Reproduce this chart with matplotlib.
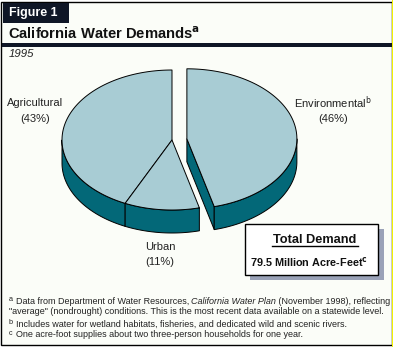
import numpy as np
import matplotlib
matplotlib.use("Agg")
import matplotlib.pyplot as plt
from matplotlib.patches import Rectangle, Polygon

# ---- data ----
categories = ["Agricultural", "Urban", "Environmental"]
shares = [43, 11, 46]
pct_labels = ["(43%)", "(11%)", "(46%)"]
explode = [0, 0, 1]
total_title = "Total Demand"
total_value = "79.5 Million Acre-Feet"
year_label = "1995"

W, H = 393, 347
fig = plt.figure(figsize=(W / 100, H / 100), dpi=100)
fig.patch.set_facecolor("white")
ax = fig.add_axes([0, 0, 1, 1])
ax.set_xlim(0, W)
ax.set_ylim(H, 0)
ax.axis("off")

FONT = "Liberation Sans"
BG = "#fbfdf8"
TOP = "#a8ccd4"
SIDE = "#036878"
DARK = "#0f1626"

# frame
ax.add_patch(Rectangle((1, 2), 390.5, 343, facecolor=BG, edgecolor="black", lw=1.0, zorder=0))
ax.add_patch(Rectangle((392, 0), 1.2, H, facecolor="#f2f200", edgecolor="none", zorder=0))
# tab
ax.add_patch(Rectangle((2.5, 2.5), 66, 20, facecolor=DARK, edgecolor="none", zorder=1))
ax.text(9, 13, "Figure 1", color="white", fontsize=8.9, fontweight="bold", family=FONT,
        va="center", ha="left", zorder=2)
ax.text(8, 34, r"California Water Demands$^{\mathbf{a}}$", color="#111111", fontsize=10.6,
        fontweight="bold", family=FONT, va="center", ha="left", zorder=2)
ax.add_patch(Rectangle((1.5, 43), 390, 3.6, facecolor=DARK, edgecolor="none", zorder=1))
ax.text(9, 53.5, year_label, fontsize=8.2, style="italic", family=FONT, va="center",
        ha="left", color="#222222")

# ---- 3D pie ----
cx, cy = 172.0, 140.0
rx, ry = 110.0, 70.0
depth = 23.0
expl_dist = 15.0
lw = 0.7

def pt(t, ox, oy, dz=0.0):
    return ox + rx * np.cos(t), oy - ry * np.sin(t) + dz

frac = np.array(shares, dtype=float) / np.sum(shares)
starts = []
a = np.pi / 2
for f in frac:
    starts.append(a)
    a += 2 * np.pi * f
slices = []
for k, f in enumerate(frac):
    t0 = starts[k]
    t1 = t0 + 2 * np.pi * f
    mid = (t0 + t1) / 2
    ox = cx + expl_dist * explode[k] * np.cos(mid)
    oy = cy - expl_dist * explode[k] * np.sin(mid) * (ry / rx)
    slices.append((t0, t1, ox, oy))

def draw_side(t0, t1, ox, oy, z):
    ts = np.linspace(t0, t1, 400)
    vis = np.sin(ts) <= 0
    if not vis.any():
        return
    ts = ts[vis]
    x, y = pt(ts, ox, oy)
    xb, yb = pt(ts, ox, oy, depth)
    poly = np.column_stack([np.r_[x, xb[::-1]], np.r_[y, yb[::-1]]])
    ax.add_patch(Polygon(poly, closed=True, facecolor=SIDE, edgecolor="black", lw=lw,
                         joinstyle="round", zorder=z))

def draw_radial_face(t, ox, oy, z):
    ex, ey = pt(t, ox, oy)
    poly = [(ox, oy), (ex, ey), (ex, ey + depth), (ox, oy + depth)]
    ax.add_patch(Polygon(poly, closed=True, facecolor=SIDE, edgecolor="black", lw=lw,
                         joinstyle="round", zorder=z))

def draw_top(t0, t1, ox, oy, z):
    ts = np.linspace(t0, t1, 400)
    x, y = pt(ts, ox, oy)
    poly = np.column_stack([np.r_[ox, x], np.r_[oy, y]])
    ax.add_patch(Polygon(poly, closed=True, facecolor=TOP, edgecolor="black", lw=lw,
                         joinstyle="round", zorder=z))

for k, (t0, t1, ox, oy) in enumerate(slices):
    if not explode[k]:
        draw_side(t0, t1, ox, oy, 3)
for k, (t0, t1, ox, oy) in enumerate(slices):
    if not explode[k]:
        draw_top(t0, t1, ox, oy, 4)
for k, (t0, t1, ox, oy) in enumerate(slices):
    if explode[k]:
        draw_radial_face(t0, ox, oy, 5)
        draw_side(t0, t1, ox, oy, 5.1)
        draw_top(t0, t1, ox, oy, 5.2)

# labels
lab_fs = 8.0
lc = "#222222"
ax.text(35, 103, categories[0], fontsize=lab_fs, family=FONT, ha="center", va="center", color=lc)
ax.text(35, 118.5, pct_labels[0], fontsize=lab_fs, family=FONT, ha="center", va="center", color=lc)
ax.text(333, 103, categories[2] + r"$^{\mathrm{b}}$", fontsize=lab_fs, family=FONT, ha="center",
        va="center", color=lc)
ax.text(333, 118.5, pct_labels[2], fontsize=lab_fs, family=FONT, ha="center", va="center", color=lc)
ax.text(160, 247, categories[1], fontsize=lab_fs, family=FONT, ha="center", va="center", color=lc)
ax.text(160, 262, pct_labels[1], fontsize=lab_fs, family=FONT, ha="center", va="center", color=lc)

# total box
ax.add_patch(Rectangle((250, 229), 134, 51, facecolor="#9aa2b8", edgecolor="none", zorder=6))
ax.add_patch(Rectangle((245, 224), 133, 51, facecolor="white", edgecolor="black", lw=1.0, zorder=7))
ax.text(315, 239.5, total_title, fontsize=9.2, fontweight="bold", family=FONT, ha="center",
        va="center", color="#111111", zorder=8)
ax.plot([272, 358], [245.5, 245.5], color="black", lw=1.0, zorder=8)
ax.text(309, 262, total_value + r"$^{\mathbf{c}}$", fontsize=7.8, fontweight="bold", family=FONT,
        ha="center", va="center", color="#111111", zorder=8)

# footnotes
fn_fs = 6.5
fn_col = "#222222"
ax.text(8.5, 299.5, "a", fontsize=5.2, family=FONT, ha="left", va="center", color=fn_col)
t1 = ax.text(15.5, 301, "Data from Department of Water Resources, ", fontsize=fn_fs, family=FONT,
             ha="left", va="center", color=fn_col)
fig.canvas.draw()
r = fig.canvas.get_renderer()
inv = ax.transData.inverted()
bb = t1.get_window_extent(r)
x_end = inv.transform((bb.x1, bb.y0))[0]
t2 = ax.text(x_end, 301, "California Water Plan", fontsize=fn_fs, family=FONT, style="italic",
             ha="left", va="center", color=fn_col)
bb2 = t2.get_window_extent(r)
x_end2 = inv.transform((bb2.x1, bb2.y0))[0]
ax.text(x_end2, 301, " (November 1998), reflecting", fontsize=fn_fs, family=FONT,
        ha="left", va="center", color=fn_col)
ax.text(9, 311, "\"average\" (nondrought) conditions. This is the most recent data available on a statewide level.",
        fontsize=fn_fs, family=FONT, ha="left", va="center", color=fn_col)
ax.text(8.5, 322.5, "b", fontsize=5.2, family=FONT, ha="left", va="center", color=fn_col)
ax.text(15.5, 324, "Includes water for wetland habitats, fisheries, and dedicated wild and scenic rivers.",
        fontsize=fn_fs, family=FONT, ha="left", va="center", color=fn_col)
ax.text(8.5, 333.5, "c", fontsize=5.2, family=FONT, ha="left", va="center", color=fn_col)
ax.text(15.5, 334.5, "One acre-foot supplies about two three-person households for one year.",
        fontsize=fn_fs, family=FONT, ha="left", va="center", color=fn_col)

fig.savefig("out.png", dpi=100, facecolor="white")
